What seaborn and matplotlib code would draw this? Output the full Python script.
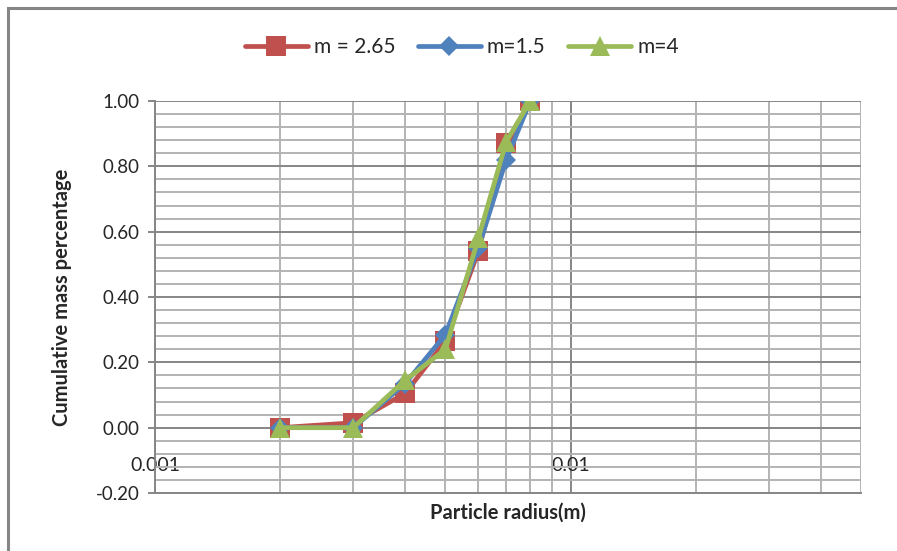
import numpy as np
import pandas as pd
import seaborn as sns
from matplotlib import pyplot as plt
from matplotlib.patches import Rectangle
from matplotlib.ticker import FixedLocator, MultipleLocator, NullFormatter, FuncFormatter

# data
radius = [0.002, 0.003, 0.004, 0.005, 0.006, 0.007, 0.008]
m_265 = [0.00, 0.015, 0.105, 0.265, 0.54, 0.87, 1.00]
m_15 = [0.00, 0.00, 0.135, 0.285, 0.55, 0.82, 1.00]
m_4 = [0.00, 0.00, 0.145, 0.24, 0.58, 0.875, 1.00]
series_names = ["m = 2.65", "m=1.5", "m=4"]
series_colors = ["#C0504D", "#4F81BD", "#9BBB59"]
series_markers = ["s", "D", "^"]
marker_sizes = [15, 10, 15]
x_tick_values = [0.001, 0.01]
x_tick_labels = ["0.001", "0.01"]

MAJOR_GRID = "#868686"
MINOR_GRID = "#B3B3B3"

sns.set_theme(style="white")
plt.rcParams["font.family"] = ["Lato", "DejaVu Sans"]
plt.rcParams["axes.unicode_minus"] = False

df = pd.DataFrame({
    "radius": radius * 3,
    "value": m_265 + m_15 + m_4,
    "series": np.repeat(series_names, len(radius)),
})

fig = plt.figure(figsize=(8.97, 5.51), dpi=100)
ax = fig.add_axes([155 / 897, 1 - 493 / 551, (861 - 155) / 897, (493 - 101) / 551])

for name, color, mk, ms in zip(series_names, series_colors, series_markers, marker_sizes):
    sns.lineplot(
        data=df[df["series"] == name], x="radius", y="value",
        color=color, marker=mk, markersize=ms, markeredgecolor=color,
        markeredgewidth=0, linewidth=3.4, label=name, ax=ax, zorder=3,
    )

ax.set_xscale("log")
ax.set_xlim(0.001, 0.05)
ax.set_ylim(-0.2, 1.0)

# gridlines: Excel style major/minor
ax.yaxis.set_major_locator(MultipleLocator(0.2))
ax.yaxis.set_minor_locator(MultipleLocator(0.04))
ax.yaxis.set_major_formatter(FuncFormatter(lambda v, _: f"{v:.2f}"))
ax.xaxis.set_major_locator(FixedLocator(x_tick_values))
ax.set_xticklabels(x_tick_labels)
ax.xaxis.set_minor_locator(FixedLocator(
    [k * 0.001 for k in range(2, 10)] + [k * 0.01 for k in range(2, 6)]))
ax.xaxis.set_minor_formatter(NullFormatter())

ax.grid(which="major", color=MAJOR_GRID, linewidth=1.4)
ax.grid(which="minor", color=MINOR_GRID, linewidth=1.4)
ax.set_axisbelow(True)

for side in ["top", "right"]:
    ax.spines[side].set_visible(False)
for side in ["left", "bottom"]:
    ax.spines[side].set_color(MAJOR_GRID)
    ax.spines[side].set_linewidth(1.4)

ax.tick_params(axis="y", which="major", length=5, width=1.4, color=MAJOR_GRID,
               labelsize=13.5, pad=6, left=True)
ax.tick_params(axis="y", which="minor", length=0)
ax.tick_params(axis="x", which="both", length=0)
ax.tick_params(axis="x", which="major", labelsize=14, pad=-26)

ax.set_xlabel("Particle radius(m)", fontsize=14.5, fontweight="bold")
ax.set_ylabel("Cumulative mass percentage", fontsize=14.5, fontweight="bold")
ax.xaxis.set_label_coords(0.5, -0.025)
ax.yaxis.set_label_coords(-0.117, 0.5)

handles, labels = ax.get_legend_handles_labels()
ax.get_legend().remove()
fig.legend(handles, labels, loc="center", bbox_to_anchor=(0.515, 1 - 47 / 551),
           ncol=3, frameon=False, fontsize=15, handlelength=3.0,
           columnspacing=1.1, handletextpad=0.3)

# chart area border (cropped on the right/bottom in the reference)
fig.patches.append(Rectangle((8 / 897, -0.1), 1.2, 1 - 8 / 551 + 0.1,
                             transform=fig.transFigure, fill=False,
                             edgecolor=MAJOR_GRID, linewidth=2.2))

fig.savefig("out.png", dpi=100)
